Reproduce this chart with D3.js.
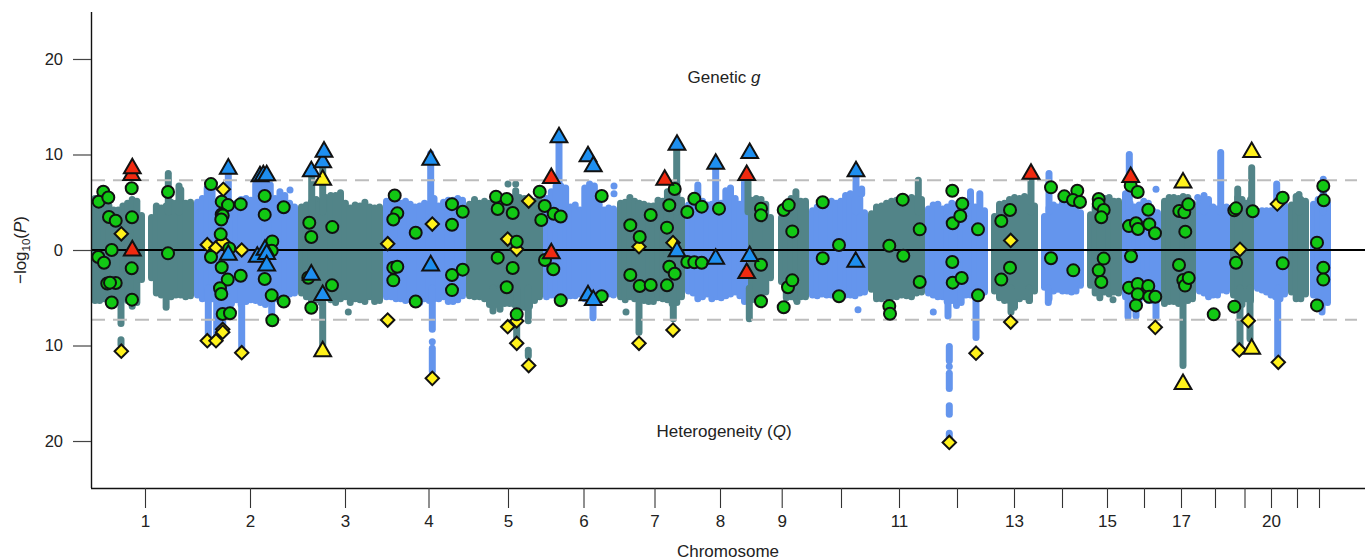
<!DOCTYPE html>
<html>
<head>
<meta charset="utf-8">
<script src="https://cdn.jsdelivr.net/npm/d3@7"></script>
<style>
  html, body { margin: 0; padding: 0; background: #fff; }
  text { font-family: "Liberation Sans", Arial, sans-serif; fill: #222; }
</style>
</head>
<body>
<div id="miami"></div>
<script>
// chromosome ticks (position along the genome axis)
var chromTickPos = [54, 159, 254, 337.5, 417, 492.5, 563.5, 629, 690.7, 750, 808, 866, 923, 971, 1016, 1053, 1090, 1124, 1153.5, 1180, 1206, 1228];
var chromTickNames = ["1", "2", "3", "4", "5", "6", "7", "8", "9", "", "11", "", "13", "", "15", "", "17", "", "", "20", "", ""];
var yTicks = [-20, -10, 0, 10, 20];

// stretches of the genome that carry SNPs (chr 1 and 9 have a centromere gap)
var segChrom = [1, 1, 2, 3, 4, 5, 6, 7, 8, 9, 9, 10, 11, 12, 13, 14, 15, 16, 17, 18, 19, 20, 21, 22];
var segStart = [0.5, 57, 103, 207, 292, 375, 452, 526, 594, 657, 687, 718, 777, 834, 900, 950, 996, 1031, 1070, 1105, 1139, 1163, 1197, 1219];
var segEnd = [54, 103, 207, 292, 375, 452, 526, 594, 657, 683, 718, 777, 834, 897, 947, 993, 1031, 1070, 1105, 1139, 1163, 1197, 1218, 1240];

// top of the SNP cloud along each stretch, genetic g side
var cloudUp = [
  [5.4, 5.5, 5.6, 4.6, 4.2, 4.2, 4.6, 4.9, 5.3, 5.1, 3.6],
  [3.4, 4.6, 4.4, 4.6, 5.0, 4.9, 6.3, 4.9, 5.0],
  [5.0, 5.4, 6.5, 6.8, 4.6, 4.4, 4.6, 4.5, 4.9, 5.3, 5.4, 5.2, 6.9, 7.1, 7.1, 6.8, 5.4, 6.1, 5.7, 4.9, 4.5],
  [4.5, 4.7, 5.0, 5.3, 5.1, 5.5, 5.7, 5.7, 6.0, 4.9, 4.4, 4.7, 4.6, 5.0, 4.5, 4.4, 4.5],
  [5.1, 5.3, 4.9, 4.9, 5.1, 4.8, 4.5, 4.6, 4.9, 4.8, 5.4, 4.6, 5.0, 5.2, 5.2, 5.4, 5.2],
  [4.8, 5.3, 4.9, 5.1, 4.9, 5.1, 4.9, 5.2, 5.2, 5.5, 5.5, 5.4, 4.9, 5.1, 5.2],
  [5.4, 6.1, 6.7, 6.7, 6.5, 4.5, 4.7, 4.2, 6.5, 6.9, 6.7, 4.8, 4.2, 4.4, 4.3],
  [4.9, 5.0, 5.5, 5.1, 4.9, 4.8, 4.6, 4.6, 5.2, 5.1, 6.1, 6.3, 6.2, 5.2],
  [4.7, 4.9, 6.8, 5.1, 4.7, 4.8, 4.8, 4.9, 6.2, 6.5, 5.4, 4.8, 7.3],
  [5.2, 5.4, 5.3, 4.8, 3.4],
  [3.4, 4.9, 5.4, 6.1, 5.1, 5.1],
  [4.1, 4.5, 4.5, 4.8, 5.1, 4.9, 5.1, 5.7, 5.9, 5.3, 5.4, 3.9],
  [3.8, 4.5, 4.6, 4.9, 5.1, 5.2, 5.3, 5.3, 5.5, 5.4, 5.3],
  [4.3, 4.7, 4.8, 4.3, 4.5, 4.9, 4.7, 4.5, 4.7, 6.1, 4.5, 5.9, 4.1],
  [3.5, 4.8, 4.9, 5.3, 5.5, 5.4, 5.6, 5.5, 4.6],
  [3.5, 4.4, 4.7, 4.5, 4.9, 4.9, 5.2, 5.3, 3.9],
  [3.7, 4.5, 5.2, 5.4, 5.5, 5.1, 5.1],
  [5.9, 4.9, 4.5, 4.7, 5.1, 4.9, 4.1, 3.9],
  [5.1, 5.5, 5.5, 5.4, 5.6, 5.5, 4.9],
  [5.0, 4.9, 5.3, 4.5, 4.3, 4.5, 4.5],
  [3.9, 5.5, 5.3, 4.9, 5.3],
  [4.0, 4.1, 4.1, 4.1, 4.5, 5.3, 4.7],
  [4.7, 5.6, 5.3, 5.1],
  [4.8, 5.3, 5.7, 4.9]
];
// bottom of the cloud, heterogeneity Q side
var cloudDown = [
  [5.3, 5.3, 5.1, 4.6, 4.9, 5.4, 4.9, 5.3, 5.9, 5.5, 3.1],
  [2.9, 4.5, 4.7, 6.0, 4.9, 4.7, 4.7, 4.9, 4.8],
  [4.7, 5.1, 5.1, 5.1, 5.3, 5.4, 5.7, 5.6, 5.2, 5.7, 5.4, 5.2, 5.3, 5.5, 5.7, 5.3, 5.1, 5.4, 5.3, 4.6, 4.5],
  [4.5, 4.9, 5.2, 5.2, 5.5, 4.9, 5.2, 5.5, 5.1, 4.9, 5.5, 5.1, 5.2, 5.4, 4.9, 5.4, 5.3],
  [4.9, 4.9, 5.1, 5.1, 5.3, 5.2, 5.2, 5.5, 5.1, 5.3, 5.1, 5.1, 4.9, 5.4, 5.4, 5.2, 4.8],
  [4.8, 4.9, 4.9, 5.1, 5.7, 5.7, 5.9, 5.6, 5.6, 5.7, 6.1, 6.0, 5.9, 5.3, 4.9],
  [4.9, 4.7, 4.8, 4.9, 4.9, 4.8, 4.8, 4.6, 5.1, 5.4, 4.9, 4.8, 4.6, 4.6, 4.7],
  [4.9, 5.2, 4.9, 5.1, 4.9, 5.3, 5.4, 5.4, 5.0, 5.1, 5.2, 5.6, 5.5, 4.9],
  [4.3, 4.5, 5.1, 4.9, 4.6, 5.1, 4.9, 5.0, 4.8, 4.6, 4.4, 4.8, 5.4],
  [5.2, 5.2, 4.8, 4.4, 2.9],
  [3.3, 5.0, 4.9, 5.1, 4.9, 4.9],
  [4.7, 4.8, 4.6, 4.7, 4.7, 4.6, 4.8, 4.7, 4.7, 4.8, 4.5, 4.4],
  [4.1, 5.1, 5.1, 4.9, 4.9, 4.9, 4.7, 4.8, 4.9, 4.5, 4.4],
  [4.5, 4.7, 4.9, 4.9, 5.4, 5.3, 5.8, 5.5, 4.7, 4.7, 4.5, 4.7, 4.4],
  [4.3, 5.0, 5.3, 5.3, 6.0, 5.1, 4.9, 5.3, 4.3],
  [3.9, 5.1, 4.3, 4.1, 4.3, 4.3, 4.4, 4.3, 3.7],
  [3.7, 4.5, 5.0, 4.4, 4.6, 4.4, 4.5],
  [4.9, 4.9, 5.1, 5.2, 4.9, 5.3, 5.3, 4.9],
  [5.6, 5.4, 5.4, 5.6, 5.5, 5.3, 5.1],
  [4.3, 4.5, 4.9, 4.7, 4.7, 4.2, 4.3],
  [4.7, 5.1, 5.7, 5.1, 5.3],
  [4.0, 4.2, 4.4, 4.7, 4.9, 5.1, 4.6],
  [4.4, 5.1, 5.1, 4.6],
  [4.7, 5.1, 5.5, 5.5]
];

// association peaks and stray SNPs above the cloud (from == to is a single dot)
var spikePos = [77.3, 88, 137.3, 220.7, 231.7, 199, 339.7, 417, 424.7, 424.7,
  468, 523, 523, 585.7, 624.7, 657, 765, 770.7, 827.3, 940,
  958, 1038.3, 1065, 1106.7, 1113, 1129.7, 1146.7, 1160.7, 1185.7, 1208, 1232.3,
  30, 30, 117.3, 125.7, 131.7, 139, 150.7, 180.7, 231.7, 257.3,
  341.3, 341.3, 341.3, 402, 409, 425.7, 437.3, 437.3, 502, 535,
  548, 582.3, 658.3, 767, 706, 842.3, 857, 858.3, 858.3, 858.3,
  858.3, 858.3, 885, 920, 938, 957.3, 1022, 1037, 1045, 1065,
  1092, 1149, 1159, 1186.7, 1231];
var spikeFrom = [4, 4, 4, 4, 4, 6.28, 4, 6.9, 6.9, 4,
  4, 6.7, 5.9, 4, 4, 4, 4, 6.4, 4, 4,
  4, 4, 6.35, 5.5, 4, 4, 4, 4, 4, 4, 4,
  -4, -9.4, -4, -4, -4, -4, -4, -4, -4, -6.5,
  -4, -9.6, -10.3, -4, -4, -4, -4, -10.5, -4, -6.5,
  -4, -4, -4, -6.25, -5.4, -6.5, -4, -10.1, -12.2, -12.9,
  -16.3, -19.2, -4, -4, -4, -4, -5.2, -4, -4, -4,
  -4, -4, -4, -4, -4];
var spikeTo = [8.0, 6.7, 8.3, 7.9, 9.9, 6.28, 10.1, 6.9, 6.9, 6.2,
  11.3, 6.7, 5.9, 10.9, 8.9, 7.9, 7.9, 5.9, 7.3, 7.5,
  8.0, 10.0, 6.35, 5.5, 5.7, 10.2, 6.4, 8.6, 6.9, 5.8, 7.4,
  -7.7, -9.9, -9.3, -9.2, -8.3, -6.9, -10.2, -6.6, -10.2, -6.5,
  -8.3, -9.6, -12.7, -6.4, -6.2, -9.3, -7.4, -11.1, -7.1, -6.5,
  -8.6, -7.2, -7.2, -6.25, -5.4, -6.5, -6.9, -11.6, -12.2, -14.5,
  -17.2, -19.6, -9.15, -6.5, -5.3, -5.5, -5.2, -7.0, -6.9, -7.1,
  -12.1, -10.0, -9.3, -11.1, -6.5];

// green circles, genetic g side
var circlePosUp = [12.3, 7.7, 17.3, 18, 24.7, 40.7, 41, 20.7, 77, 120,
  130.7, 137, 149.7, 130.7, 131.7, 130.3, 129.7, 173.7, 173.7, 192.7,
  181.3, 180.7, 138.3, 218.3, 220.3, 241.3, 303.7, 306.3, 302.3, 324.7,
  361, 361, 371.7, 405, 415.7, 406.7, 421.7, 425.7, 448.7, 453.7,
  462.7, 469.7, 450.3, 510.7, 539.3, 548.7, 559.7, 576, 578.3, 583.7,
  596.3, 603.3, 610.7, 628, 670, 670, 692.7, 697.7, 701.3, 731.7,
  748, 798.3, 811.7, 828.7, 861.3, 871.3, 861.7, 869.3, 887, 910.3,
  919, 960, 973.3, 986.3, 982, 989, 1007.7, 1007.7, 1012.7, 1010.3,
  1039.7, 1046.7, 1057.3, 1038, 1045, 1047, 1058.3, 1064, 1088.3, 1093.3,
  1097.3, 1094.3, 1143.3, 1145, 1161.7, 1191.7, 1226, 1232.3, 1232.7];
var circleValUp = [6.1, 5.06, 5.5, 3.45, 3.07, 6.46, 3.42, 0, 6.07, 6.9,
  5.06, 4.7, 4.8, 3.73, 3.6, 3.2, 1.64, 5.65, 3.7, 4.47,
  0.9, -0.07, 0.17, 2.86, 1.36, 2.4, 5.7, 3.84, 3.2, 1.8,
  4.8, 2.65, 4.0, 5.58, 5.34, 4.3, 3.87, 0.87, 6.1, 4.6,
  3.8, 3.5, 3.14, 5.65, 2.6, 1.36, 3.66, 2.34, 4.68, 6.39,
  3.98, 5.37, 4.54, 4.33, 4.33, 3.63, 4.19, 4.7, 1.95, 5.0,
  0.52, 0.45, 5.27, 2.16, 6.2, 4.85, 2.8, 3.56, 2.16, 3.04,
  4.19, 6.56, 5.62, 6.2, 5.24, 5.03, 5.34, 4.82, 4.19, 3.42,
  6.74, 6.07, 4.22, 2.5, 2.8, 2.2, 2.69, 1.75, 4.08, 3.94,
  4.78, 1.92, 4.15, 4.36, 4.05, 5.48, 0.77, 6.7, 5.2];

// green circles, heterogeneity Q side
var circlePosDown = [7.3, 13, 16.3, 24.7, 19, 20.7, 40.7, 41, 77, 120,
  130.7, 136.7, 149.7, 129, 130.3, 131.7, 139, 173.7, 180.7, 192.7,
  181.3, 217.3, 220.3, 241, 302.3, 306.3, 302.3, 324.7, 361, 361,
  406.7, 421.7, 371.7, 415.7, 425.7, 454, 462.3, 469.7, 510.7, 539.3,
  548.7, 559.7, 576, 578.3, 583.7, 596.3, 603.3, 610.7, 670, 670,
  692.7, 697, 701.3, 731.7, 748, 798.3, 799, 812.3, 828.7, 861.3,
  861.7, 870.7, 887, 910.3, 919, 960, 982.3, 1012.7, 1007.7, 1010.3,
  1040, 1038, 1046.7, 1046.7, 1045, 1057.3, 1058.3, 1064.3, 1088, 1092.3,
  1094, 1097.7, 1122.7, 1143.3, 1145, 1191.7, 1226, 1232.3, 1232.3];
var circleValDown = [-0.73, -1.33, -3.5, -3.46, -3.42, -5.5, -1.92, -5.2, -0.35, -0.73,
  -1.8, -3.1, -2.7, -4, -4.6, -6.7, -6.63, -3.04, -4.75, -5.4,
  -7.36, -2.9, -6.04, -3.7, -1.85, -1.75, -3.18, -5.4, -2.62, -4.2,
  -0.8, -1.88, -2.06, -3.9, -6.74, -1.05, -2.02, -5.27, -4.85, -2.62,
  -3.77, -3.66, -3.7, -1.75, -2.48, -1.26, -1.29, -1.33, -1.54, -5.37,
  -6, -3.9, -3.18, -0.87, -4.85, -5.86, -6.67, -0.6, -3.35, -1.26,
  -3.42, -2.93, -4.75, -3.1, -1.85, -0.87, -2.13, -0.9, -2.13, -3.35,
  -0.66, -3.94, -3.56, -4.64, -5.8, -3.77, -4.89, -4.89, -1.57, -3.14,
  -3.73, -2.93, -6.74, -5.93, -1.33, -1.4, -5.8, -1.85, -3.1];

// yellow diamonds
var diamondPos = [132.3, 30.3, 30.3, 116.3, 125, 131.7, 150.7, 296.7, 296.7, 341.3,
  341.3, 116.3, 125, 131.7, 131.7, 150.7, 437.7, 416.7, 425.7, 416.7,
  425.7, 425.7, 437.7, 548, 548, 582, 582, 919.7, 919.7, 885, 1064.3,
  1149, 1148.3, 1157.3, 1186.3, 1187.3, 858.3];
var diamondVal = [6.35, 1.7, -10.6, 0.56, 0.24, 0.87, 0, 0.66, -7.33, 2.72,
  -13.44, -9.5, -9.5, -8.3, -8.6, -10.75, 5.13, 1.15, 0.07, -8.03,
  -7.43, -9.77, -12.1, 0.35, -9.77, 0.77, -8.38, 1.0, -7.54, -10.8, -8.1,
  0.07, -10.47, -7.4, 4.82, -11.76, -20.15];

// triangles, one pair of arrays per colour
var redTriPos = [40.7, 41.3, 41.3, 460.3, 460.3, 573.7, 655.7, 655.7, 940, 1039.7];
var redTriVal = [8.0, 8.7, 0.1, 7.68, -0.2, 7.5, 8.0, -2.27, 8.13, 7.78];
var blueTriPos = [137.3, 169, 172.3, 175.7, 220.3, 231.7, 233, 339.7, 137.3, 166.3,
  174, 175.7, 175.7, 220.3, 231.7, 339.7, 468, 497, 502.3, 586,
  624.7, 658.7, 765, 497, 502.3, 586, 624.7, 658.7, 764.7];
var blueTriVal = [8.66, 7.85, 7.96, 7.96, 8.38, 9.32, 10.44, 9.6, -0.35, -0.56,
  0.17, -0.28, -1.47, -2.44, -4.57, -1.47, 11.94, 9.95, 8.9, 11.17,
  9.18, 10.3, 8.38, -4.6, -5.1, 0, -0.77, -0.5, -1.1];
var yellowTriPos = [231.7, 231.7, 1092, 1160.7, 1092, 1160.7];
var yellowTriVal = [7.5, -10.47, 7.2, 10.4, -13.9, -10.2];

var sigLine = 7.3;

// set the dimensions and margins of the graph
var margin = {top: 12, right: 6, bottom: 72, left: 91},
    width = 1371 - margin.left - margin.right,
    height = 560 - margin.top - margin.bottom;

var tealCol = "#528488", blueCol = "#6495ed";
var snpWidth = 7;

var svg = d3.select("#miami")
  .append("svg")
    .attr("width", 1371)
    .attr("height", 560)
    .style("display", "block")
  .append("g")
    .attr("transform", "translate(" + margin.left + "," + margin.top + ")");

var x = d3.scaleLinear().domain([0, 1274]).range([0, width]);
var y = d3.scaleLinear().domain([-24.92, 24.92]).range([height, 0]);

function chromColor(pos) {
  var i = Math.max(0, d3.bisectRight(segStart, pos) - 1);
  return segChrom[i] % 2 ? tealCol : blueCol;
}

// SNP cloud, drawn as tight columns of overlapping points
var cloud = svg.append("g").attr("stroke-linecap", "round").attr("stroke-width", snpWidth);
segStart.forEach(function(s, i) {
  // keep the outer columns inside the stretch so the gaps stay open
  var first = s + snpWidth / 2,
      step = (segEnd[i] - snpWidth / 2 - first) / (cloudUp[i].length - 1);
  cloud.selectAll(null)
    .data(cloudUp[i])
    .enter().append("line")
      .attr("x1", function(d, j) { return x(first + j * step); })
      .attr("x2", function(d, j) { return x(first + j * step); })
      .attr("y1", function(d) { return y(d); })
      .attr("y2", function(d, j) { return y(-cloudDown[i][j]); })
      .attr("stroke", segChrom[i] % 2 ? tealCol : blueCol);
});

// peaks and stray SNPs
svg.append("g").attr("stroke-linecap", "round").attr("stroke-width", snpWidth)
  .selectAll("line")
  .data(spikePos)
  .enter().append("line")
    .attr("x1", function(d) { return x(d); })
    .attr("x2", function(d) { return x(d); })
    .attr("y1", function(d, i) { return y(spikeFrom[i]); })
    .attr("y2", function(d, i) { return y(spikeTo[i]); })
    .attr("stroke", function(d) { return chromColor(d); });

// significance lines
[sigLine, -sigLine].forEach(function(v) {
  svg.append("line")
    .attr("x1", 0)
    .attr("x2", x(1266))
    .attr("y1", y(v))
    .attr("y2", y(v))
    .attr("stroke", "#bdbdbd")
    .attr("stroke-width", 2)
    .attr("stroke-dasharray", "14,8");
});

// zero line
svg.append("line")
  .attr("x1", 0)
  .attr("x2", width)
  .attr("y1", y(0))
  .attr("y2", y(0))
  .attr("stroke", "#000")
  .attr("stroke-width", 2);

// axes
var yAxis = svg.append("g")
  .call(d3.axisLeft(y).tickValues(yTicks).tickSize(18).tickPadding(10)
    .tickFormat(function(d) { return Math.abs(d); }));
var xAxis = svg.append("g")
  .attr("transform", "translate(0," + height + ")")
  .call(d3.axisBottom(x).tickValues(chromTickPos).tickSize(20).tickPadding(7)
    .tickFormat(function(d, i) { return chromTickNames[i]; }));
yAxis.selectAll("text").style("font-size", "16.5px");
xAxis.selectAll("text").style("font-size", "17px");
yAxis.selectAll(".tick line").attr("stroke", "#444").attr("stroke-width", 1.2);
xAxis.selectAll(".tick line").attr("stroke", "#333").attr("stroke-width", 1.1);
yAxis.select(".domain").attr("d", "M0.5,0V" + height).attr("stroke", "#111").attr("stroke-width", 1.4);
xAxis.select(".domain").attr("d", "M0,0.5H" + width).attr("stroke", "#111").attr("stroke-width", 1.4);

// markers
var diamond = d3.symbol().type(d3.symbolSquare).size(90);
var triangle = d3.symbol().type(d3.symbolTriangle).size(122);
var circlePos = circlePosUp.concat(circlePosDown),
    circleVal = circleValUp.concat(circleValDown);

svg.append("g").selectAll("path")
  .data(diamondPos)
  .enter().append("path")
    .attr("d", diamond)
    .attr("transform", function(d, i) { return "translate(" + x(d) + "," + y(diamondVal[i]) + ") rotate(45)"; })
    .attr("fill", "#fff21c")
    .attr("stroke", "#111")
    .attr("stroke-width", 2);

svg.append("g").selectAll("circle")
  .data(circlePos)
  .enter().append("circle")
    .attr("cx", function(d) { return x(d); })
    .attr("cy", function(d, i) { return y(circleVal[i]); })
    .attr("r", 6)
    .attr("fill", "#12c814")
    .attr("stroke", "#111")
    .attr("stroke-width", 2);

function drawTriangles(posList, valList, col) {
  svg.append("g").selectAll("path")
    .data(posList)
    .enter().append("path")
      .attr("d", triangle)
      // the symbol is centred on its centroid, nudge it to sit on the value
      .attr("transform", function(d, i) { return "translate(" + x(d) + "," + (y(valList[i]) + 1.5) + ")"; })
      .attr("fill", col)
      .attr("stroke", "#111")
      .attr("stroke-width", 2);
}
drawTriangles(yellowTriPos, yellowTriVal, "#fff21c");
drawTriangles(blueTriPos, blueTriVal, "#1e8ff0");
drawTriangles(redTriPos, redTriVal, "#f02a10");

// labels
var gLabel = svg.append("text")
  .attr("x", x(633))
  .attr("y", y(17.45))
  .attr("text-anchor", "middle")
  .style("font-size", "17px");
gLabel.append("tspan").text("Genetic ");
gLabel.append("tspan").style("font-style", "italic").text("g");

var qLabel = svg.append("text")
  .attr("x", x(633))
  .attr("y", y(-19.55))
  .attr("text-anchor", "middle")
  .style("font-size", "17px");
qLabel.append("tspan").text("Heterogeneity (");
qLabel.append("tspan").style("font-style", "italic").text("Q");
qLabel.append("tspan").text(")");

svg.append("text")
  .attr("x", x(637))
  .attr("y", height + 69)
  .attr("text-anchor", "middle")
  .style("font-size", "17px")
  .text("Chromosome");

var yLabel = svg.append("text")
  .attr("transform", "translate(-65," + y(0) + ") rotate(-90)")
  .attr("text-anchor", "middle")
  .style("font-size", "17px");
yLabel.append("tspan").text("\u2212log");
yLabel.append("tspan").attr("dy", 4).style("font-size", "11.5px").text("10");
yLabel.append("tspan").attr("dy", -4).text("(");
yLabel.append("tspan").style("font-style", "italic").text("P");
yLabel.append("tspan").text(")");
</script>
</body>
</html>
